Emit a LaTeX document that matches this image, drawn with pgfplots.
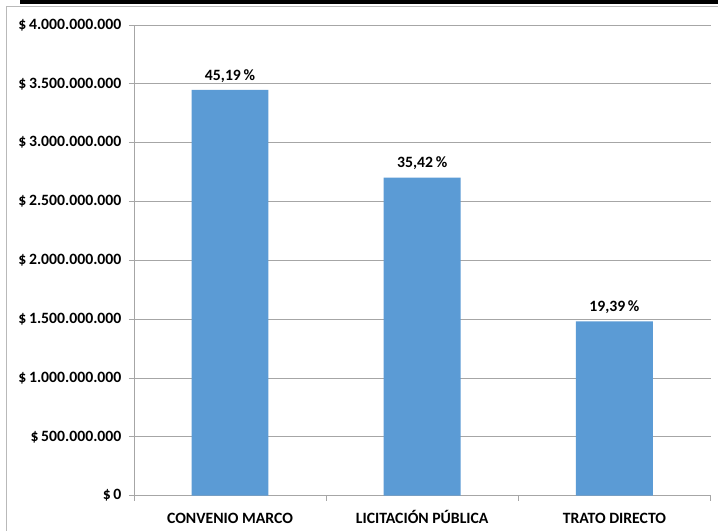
\documentclass[border=0pt]{standalone}
\usepackage{pgfplots}
\pgfplotsset{compat=1.18}
\usepackage{fontspec}
\setmainfont{Carlito}
\definecolor{barblue}{HTML}{5B9BD5}
\definecolor{gridgray}{HTML}{A6A6A6}
\begin{document}
\begin{tikzpicture}[x=1bp,y=1bp]
\path[fill=white] (0,0) rectangle (718,531);
\fill[black] (20,527) rectangle (718,531);
\draw[gray!55,line width=1bp] (7,0) -- (7,524) -- (718,524);
\begin{axis}[
  at={(134bp,35bp)}, anchor=south west,
  scale only axis, width=577bp, height=471bp,
  xmin=-0.5, xmax=2.5, ymin=0, ymax=4000000000,
  scaled y ticks=false,
  axis x line*=bottom, axis y line*=left,
  axis line style={draw=gridgray, line width=0.8bp},
  ymajorgrids, grid style={draw=gridgray, line width=0.8bp},
  tick align=outside,
  ytick={0,500000000,1000000000,1500000000,2000000000,2500000000,3000000000,3500000000,4000000000},
  yticklabels={\$\,0,\$\,500.000.000,\$\,1.000.000.000,\$\,1.500.000.000,\$\,2.000.000.000,\$\,2.500.000.000,\$\,3.000.000.000,\$\,3.500.000.000,\$\,4.000.000.000},
  ytick style={draw=gridgray, line width=0.8bp},
  major tick length=5bp,
  xtick={0,1,2},
  xticklabels={CONVENIO MARCO,LICITACIÓN PÚBLICA,TRATO DIRECTO},
  x tick style={draw=none},
  extra x ticks={-0.5,0.5,1.5,2.5},
  extra x tick labels={},
  extra x tick style={x tick style={draw=gridgray, line width=0.8bp}, major tick length=5bp, grid=none},
  ticklabel style={font=\bfseries\fontsize{15.8}{17}\selectfont},
  xticklabel style={text height=11bp, text depth=3bp, yshift=-8bp},
  yticklabel style={xshift=-4bp},
  ybar, bar width=77bp,
  nodes near coords,
  point meta=explicit symbolic,
  every node near coord/.append style={font=\bfseries\fontsize{15.8}{17}\selectfont, text=black, yshift=4bp},
  clip=false,
]
\addplot[fill=barblue, draw=none] coordinates {
  (0,3448000000) [45,19\,\%]
  (1,2703000000) [35,42\,\%]
  (2,1480000000) [19,39\,\%]
};
\end{axis}
\end{tikzpicture}
\end{document}
